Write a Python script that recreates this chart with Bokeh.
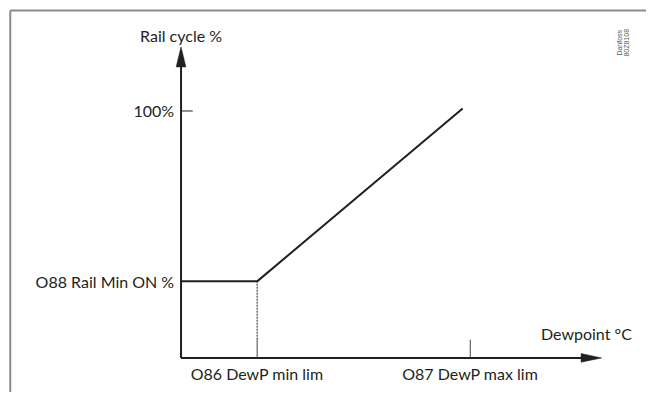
from bokeh.plotting import figure
from bokeh.models import Range1d
from bokeh.core.properties import value
from bokeh.embed import file_html
from bokeh.resources import INLINE

# ---- data (conceptual units) ----
x_tick_vals = [20, 76]
x_tick_labels = ["O86 DewP min lim", "O87 DewP max lim"]
y_tick_vals = [100]
y_tick_labels = ["100%"]
y_min_on = 31
y_min_label = "O88 Rail Min ON %"
curve_x = [0, 20, 74]
curve_y = [31, 31, 101]
x_title = "Dewpoint °C"
y_title = "Rail cycle %"
x_axis_end = 110.5
y_axis_end = 126
stamp = ["Danfoss", "80Z8108"]

# ---- layout ----
W, H = 646, 392
SX, SY = W / 662, H / 408                 # reference px -> figure px
PX_X, PX_Y = 3.9 * SX, 2.57 * SY          # figure pixels per unit
X0 = -185 * SX / PX_X
X1 = X0 + W / PX_X
Y1 = 372 * SY / PX_Y
Y0 = Y1 - H / PX_Y


def dx(px):
    return px * SX / PX_X


def dy(px):
    return px * SY / PX_Y


INK = "#231f20"
FONT = value("Lato")
FS = "16px"

p = figure(width=W, height=H, x_range=Range1d(X0, X1), y_range=Range1d(Y0, Y1),
           output_backend="svg", toolbar_location=None, min_border=0)
p.axis.visible = False
p.grid.visible = False
p.outline_line_color = None
p.background_fill_color = "white"

# border (top & left), corner at reference (10, 10.5)
bx = X0 + dx(10)
by = Y1 - dy(10.5)
p.line([bx, X1 + 5], [by, by], line_color="#8c8c8c", line_width=2)
p.line([bx, bx], [by, Y0 - 5], line_color="#8c8c8c", line_width=2)

# axes with arrow heads
ax_len_x = dx(21)
ax_half_y = dy(4.5)
ay_len = dy(21)
ay_half = dx(5)
p.line([0, x_axis_end - ax_len_x + 0.5], [0, 0], line_color=INK, line_width=2)
p.line([0, 0], [0, y_axis_end - ay_len + 0.5], line_color=INK, line_width=2)
p.patch([x_axis_end - ax_len_x, x_axis_end, x_axis_end - ax_len_x],
        [ax_half_y, 0, -ax_half_y], fill_color=INK, line_color=INK, line_width=0.5)
p.patch([-ay_half, 0, ay_half],
        [y_axis_end - ay_len, y_axis_end, y_axis_end - ay_len], fill_color=INK, line_color=INK, line_width=0.5)

# ticks
tick_h = dy(19)
for xv in x_tick_vals:
    p.line([xv, xv], [0, tick_h], line_color="#444444", line_width=1)
for yv in y_tick_vals:
    p.line([0, dx(12)], [yv, yv], line_color=INK, line_width=1)

# dashed drop line
p.line([x_tick_vals[0], x_tick_vals[0]], [tick_h, y_min_on], line_color=INK, line_width=1, line_dash="2 1")

# curve
p.line(curve_x, curve_y, line_color=INK, line_width=2)

# labels
p.text(x=x_tick_vals, y=[-dy(16)] * 2, text=x_tick_labels, text_align="center",
       text_baseline="middle", text_font=FONT, text_font_size=FS, text_color=INK)
p.text(x=[-dx(7)] * 2, y=[y_tick_vals[0], y_min_on], text=[y_tick_labels[0], y_min_label],
       text_align="right", text_baseline="middle", text_font=FONT, text_font_size=FS, text_color=INK)
p.text(x=[0], y=[y_axis_end + dy(12)], text=[y_title], text_align="center",
       text_baseline="middle", text_font=FONT, text_font_size=FS, text_color=INK)
p.text(x=[x_axis_end + dx(31)], y=[dy(25)], text=[x_title], text_align="right",
       text_baseline="middle", text_font=FONT, text_font_size=FS, text_color=INK)

# stamp (rotated)
p.text(x=[x_axis_end + dx(18), x_axis_end + dx(26)], y=[Y1 - dy(44)] * 2, text=stamp,
       angle=1.5708, text_align="center", text_baseline="middle", text_font=value("Liberation Sans"),
       text_font_size="7px", text_color="#555555")

open("out.html", "w").write(file_html(p, INLINE))
